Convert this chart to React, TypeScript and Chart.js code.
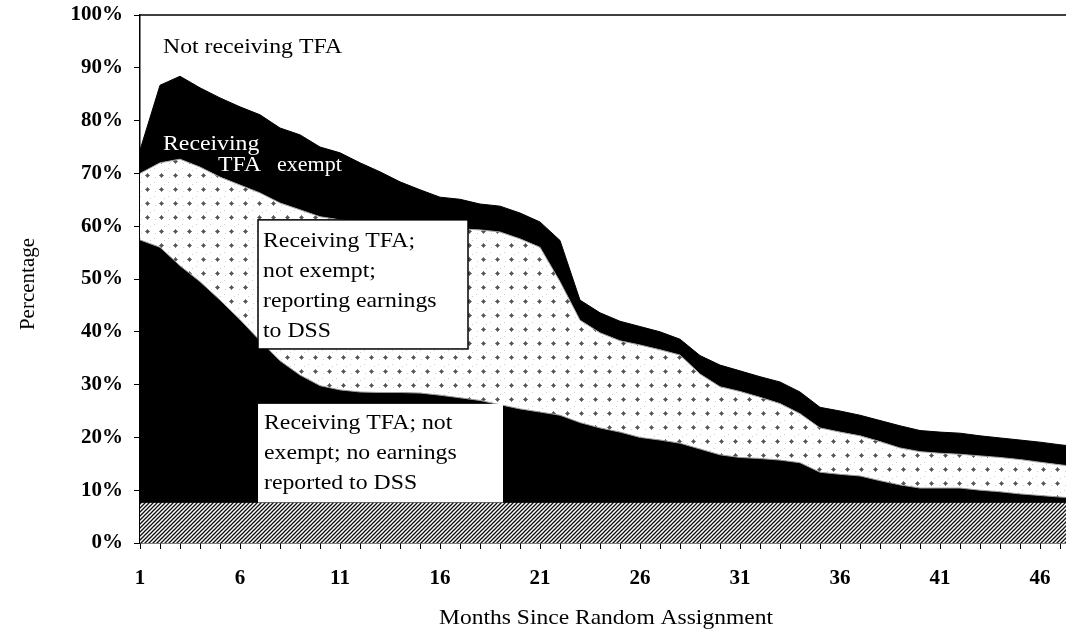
import React, { useEffect, useRef } from 'react';
import { Chart, registerables } from 'chart.js';

Chart.register(...registerables);

// Months since random assignment
const months = [1, 2, 3, 4, 5, 6, 7, 8, 9, 10, 11, 12, 13, 14, 15, 16, 17, 18, 19, 20, 21, 22, 23, 24, 25, 26, 27, 28, 29, 30, 31, 32, 33, 34, 35, 36, 37, 38, 39, 40, 41, 42, 43, 44, 45, 46, 47, 48];

// Upper boundary (cumulative %) of each band
const hatchedTop = [7.7, 7.7, 7.7, 7.7, 7.7, 7.7, 7.7, 7.7, 7.7, 7.7, 7.7, 7.7, 7.7, 7.7, 7.7, 7.7, 7.7, 7.7, 7.7, 7.7, 7.7, 7.7, 7.7, 7.7, 7.7, 7.7, 7.7, 7.7, 7.7, 7.7, 7.7, 7.7, 7.7, 7.7, 7.7, 7.7, 7.7, 7.7, 7.7, 7.7, 7.7, 7.7, 7.7, 7.7, 7.7, 7.7, 7.7, 7.7];
const noEarningsTop = [57.4, 56.0, 52.5, 49.5, 46.0, 42.3, 38.3, 34.5, 31.8, 29.8, 29.0, 28.6, 28.5, 28.5, 28.4, 28.0, 27.5, 27.0, 26.2, 25.4, 24.8, 24.2, 22.8, 21.8, 21.0, 20.0, 19.5, 18.9, 17.8, 16.7, 16.2, 16.0, 15.7, 15.2, 13.4, 13.0, 12.7, 11.8, 11.0, 10.4, 10.4, 10.4, 10.0, 9.7, 9.3, 9.0, 8.7, 8.5];
const reportingTop = [70.0, 72.0, 72.7, 71.2, 69.3, 67.8, 66.3, 64.4, 63.1, 61.8, 61.2, 60.8, 60.5, 60.2, 60.0, 59.8, 59.5, 59.3, 58.9, 57.6, 56.0, 49.5, 42.2, 39.8, 38.3, 37.5, 36.6, 35.6, 32.0, 29.6, 28.7, 27.6, 26.4, 24.5, 21.8, 21.0, 20.3, 19.2, 18.0, 17.3, 17.0, 16.8, 16.5, 16.2, 15.8, 15.3, 14.8, 14.4];
const receivingTop = [74.4, 86.7, 88.4, 86.2, 84.3, 82.6, 81.1, 78.6, 77.3, 75.0, 73.9, 72.0, 70.3, 68.4, 66.9, 65.5, 65.1, 64.2, 63.8, 62.5, 60.8, 57.3, 46.0, 43.6, 42.0, 41.0, 40.0, 38.6, 35.5, 33.7, 32.6, 31.5, 30.5, 28.6, 25.7, 25.0, 24.2, 23.2, 22.2, 21.3, 21.0, 20.8, 20.3, 19.9, 19.5, 19.1, 18.6, 18.2];

const xTickLabels = ['1', '6', '11', '16', '21', '26', '31', '36', '41', '46'];
const yTickValues = [0, 10, 20, 30, 40, 50, 60, 70, 80, 90, 100];

const SERIF = '"Liberation Serif", "Times New Roman", serif';

function makeHatch(): CanvasPattern | string {
  const c = document.createElement('canvas');
  const s = 4;
  c.width = s; c.height = s;
  const g = c.getContext('2d');
  if (!g) return '#777';
  g.fillStyle = '#fff';
  g.fillRect(0, 0, s, s);
  g.strokeStyle = '#111';
  g.lineWidth = 1.3;
  const seg = (x0: number, y0: number, x1: number, y1: number) => {
    g.beginPath(); g.moveTo(x0, y0); g.lineTo(x1, y1); g.stroke();
  };
  seg(-1, s + 1, s + 1, -1);
  seg(-1, 1, 1, -1);
  seg(s - 1, s + 1, s + 1, s - 1);
  return g.createPattern(c, 'repeat') || '#777';
}

function makeDots(): CanvasPattern | string {
  const c = document.createElement('canvas');
  const s = 14;
  c.width = s; c.height = s;
  const g = c.getContext('2d');
  if (!g) return '#eee';
  g.fillStyle = '#fff';
  g.fillRect(0, 0, s, s);
  // small diamond blob made of checkered pixels
  for (let yy = 0; yy < s; yy++) {
    for (let xx = 0; xx < s; xx++) {
      const d = Math.abs(xx - 7) + Math.abs(yy - 7);
      if (d <= 3 && ((xx + yy) % 2 === 0 || d <= 1)) {
        g.fillStyle = d <= 1 ? '#555' : '#7e7e7e';
        g.fillRect(xx, yy, 1, 1);
      }
    }
  }
  // faint speckles
  g.fillStyle = '#cfcfcf';
  g.fillRect(0, 0, 1, 1); g.fillRect(1, 9, 1, 1); g.fillRect(10, 2, 1, 1);
  return g.createPattern(c, 'repeat') || '#eee';
}

function drawStretched(ctx: CanvasRenderingContext2D, text: string, x: number, y: number, sx: number) {
  ctx.save();
  ctx.translate(x, y);
  ctx.scale(sx, 1);
  ctx.fillText(text, 0, 0);
  ctx.restore();
}

const annotations = {
  id: 'annotations',
  afterDraw(chart: any) {
    const { ctx, chartArea, scales } = chart;
    const xs = scales.x;
    const ys = scales.y;
    const px = (m: number) => xs.getPixelForValue(m);
    const py = (v: number) => ys.getPixelForValue(v);
    ctx.save();

    // top frame line
    ctx.strokeStyle = '#000';
    ctx.lineWidth = 1.5;
    ctx.beginPath();
    ctx.moveTo(chartArea.left, chartArea.top);
    ctx.lineTo(chartArea.right, chartArea.top);
    ctx.stroke();

    ctx.textAlign = 'left';
    ctx.textBaseline = 'alphabetic';
    ctx.font = `22px ${SERIF}`;
    const SX = 1.08;

    // Not receiving TFA
    ctx.fillStyle = '#000';
    drawStretched(ctx, 'Not receiving TFA', px(2.15), py(92.8), SX);

    // Receiving TFA exempt (white on black)
    ctx.fillStyle = '#fff';
    drawStretched(ctx, 'Receiving', px(2.15), py(74.4), SX);
    drawStretched(ctx, 'TFA', px(4.9), py(70.45), SX);
    drawStretched(ctx, 'exempt', px(7.85), py(70.45), 1.0);

    // Box 1: reporting earnings
    const b1l = px(6.9), b1r = px(17.4), b1t = py(61.2), b1b = py(36.75);
    ctx.fillStyle = '#fff';
    ctx.fillRect(b1l, b1t, b1r - b1l, b1b - b1t);
    ctx.strokeStyle = '#000';
    ctx.lineWidth = 1.5;
    ctx.strokeRect(b1l, b1t, b1r - b1l, b1b - b1t);
    ctx.fillStyle = '#000';
    const lines1 = ['Receiving TFA;', 'not exempt;', 'reporting earnings', 'to DSS'];
    lines1.forEach((t, i) => drawStretched(ctx, t, b1l + 5, b1t + 27 + i * 30, SX));

    // Box 2: no earnings reported
    const b2l = px(6.9), b2r = px(19.15), b2t = py(26.35), b2b = py(7.7);
    ctx.fillStyle = '#fff';
    ctx.fillRect(b2l, b2t, b2r - b2l, b2b - b2t);
    ctx.fillStyle = '#000';
    const lines2 = ['Receiving TFA; not', 'exempt; no earnings', 'reported to DSS'];
    lines2.forEach((t, i) => drawStretched(ctx, t, b2l + 6, b2t + 25 + i * 30, SX));

    // Axis titles
    ctx.font = `21px ${SERIF}`;
    ctx.textAlign = 'center';
    drawStretched(ctx, 'Months Since Random Assignment', 606, 624, 1.12);
    ctx.save();
    ctx.translate(34, 284);
    ctx.rotate(-Math.PI / 2);
    ctx.fillText('Percentage', 0, 0);
    ctx.restore();

    ctx.restore();
  },
};

export default function App() {
  const canvasRef = useRef<HTMLCanvasElement | null>(null);

  useEffect(() => {
    document.body.style.margin = '0';
    const canvas = canvasRef.current;
    if (!canvas) return;
    const hatch = makeHatch();
    const dots = makeDots();
    const pts = (arr: number[]) => months.map((m, i) => ({ x: m, y: arr[i] }));

    const chart = new Chart(canvas, {
      type: 'line',
      data: {
        datasets: [
          {
            label: 'Hatched base',
            data: pts(hatchedTop),
            fill: 'origin',
            backgroundColor: hatch as any,
            borderColor: '#000',
            borderWidth: 1,
            pointRadius: 0,
            tension: 0,
          },
          {
            label: 'Receiving TFA; not exempt; no earnings reported to DSS',
            data: pts(noEarningsTop),
            fill: '-1',
            backgroundColor: '#000',
            borderColor: '#9a9a9a',
            borderWidth: 1,
            pointRadius: 0,
            tension: 0,
          },
          {
            label: 'Receiving TFA; not exempt; reporting earnings to DSS',
            data: pts(reportingTop),
            fill: '-1',
            backgroundColor: dots as any,
            borderColor: '#a0a0a0',
            borderWidth: 1,
            pointRadius: 0,
            tension: 0,
          },
          {
            label: 'Receiving TFA exempt',
            data: pts(receivingTop),
            fill: '-1',
            backgroundColor: '#000',
            borderColor: '#000',
            borderWidth: 1,
            pointRadius: 0,
            tension: 0,
          },
        ],
      },
      options: {
        responsive: false,
        animation: false,
        layout: { autoPadding: false, padding: { top: 15, right: 0, left: 0, bottom: 0 } },
        plugins: {
          legend: { display: false },
          tooltip: { enabled: false },
          title: { display: false },
        },
        scales: {
          x: {
            type: 'linear',
            min: 1,
            max: 47.3,
            afterBuildTicks: (s: any) => {
              s.ticks = months.filter((m) => m <= 47).map((v) => ({ value: v }));
            },
            afterFit: (s: any) => {
              s.height = 92;
              s.paddingLeft = 0;
              s.paddingRight = 0;
            },
            ticks: {
              autoSkip: false,
              maxRotation: 0,
              padding: 17,
              color: '#000',
              font: { family: SERIF, size: 21, weight: 'bold' },
              callback: (v: any) => (xTickLabels.includes(String(v)) ? String(v) : ''),
            },
            grid: { drawOnChartArea: false, drawTicks: true, tickLength: 6, color: '#000', lineWidth: 1 },
            border: { display: true, color: '#000', width: 1.5 },
          },
          y: {
            min: 0,
            max: 100,
            afterBuildTicks: (s: any) => {
              s.ticks = yTickValues.map((v) => ({ value: v }));
            },
            afterFit: (s: any) => {
              s.width = 140;
              s.paddingTop = 0;
              s.paddingBottom = 0;
            },
            ticks: {
              padding: 11,
              color: '#000',
              font: { family: SERIF, size: 21, weight: 'bold' },
              callback: (v: any) => `${v}%`,
            },
            grid: { drawOnChartArea: false, drawTicks: true, tickLength: 6, color: '#000', lineWidth: 1 },
            border: { display: true, color: '#000', width: 1.5 },
          },
        },
      },
      plugins: [annotations],
    });

    return () => chart.destroy();
  }, []);

  return (
    <div style={{ width: 1066, height: 635, background: '#fff' }}>
      <canvas ref={canvasRef} width={1066} height={635} style={{ width: 1066, height: 635, display: 'block' }} />
    </div>
  );
}
